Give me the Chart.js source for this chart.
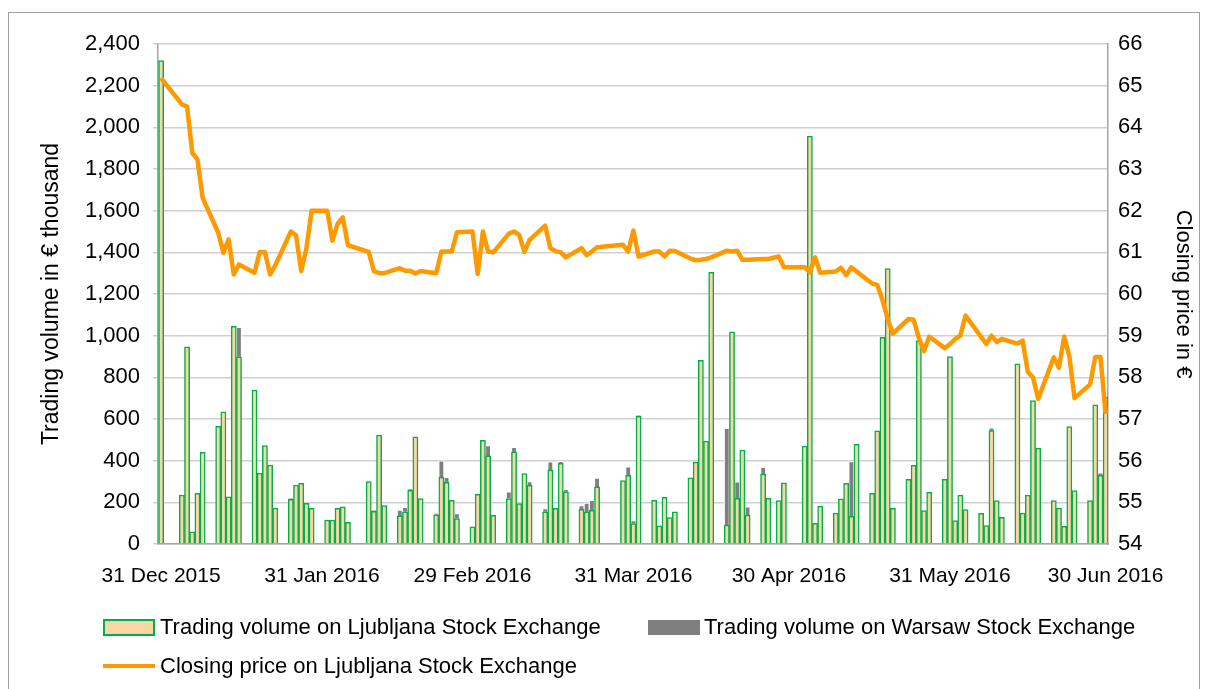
<!DOCTYPE html>
<html>
<head>
<meta charset="utf-8">
<script src="https://cdn.jsdelivr.net/npm/chart.js@4.4.1/dist/chart.umd.min.js"></script>
<style>
  html, body { margin: 0; padding: 0; background: #fff; }
  body { width: 1209px; height: 689px; overflow: hidden; position: relative; font-family: 'Liberation Sans', Arial, sans-serif; }
  #frame { position: absolute; left: 8px; top: 12px; width: 1192px; height: 700px; border: 1px solid #a0a0a0; box-sizing: border-box; }
  canvas { position: absolute; left: 0; top: 0; }
  .lg { position: absolute; font-size: 22px; line-height: 26px; color: #000; white-space: nowrap; }
  .sw { position: absolute; box-sizing: border-box; }
</style>
</head>
<body>
<div id="frame"></div>
<canvas id="chart" width="1209" height="689"></canvas>

<div class="sw" style="left:103px;top:619px;width:52px;height:17px;background:#f9d7a4;border:2px solid #00b050;"></div>
<div class="lg" style="left:160px;top:614px;">Trading volume on Ljubljana Stock Exchange</div>
<div class="sw" style="left:648px;top:620px;width:52px;height:15px;background:#7f7f7f;"></div>
<div class="lg" style="left:704px;top:614px;">Trading volume on Warsaw Stock Exchange</div>
<div class="sw" style="left:103px;top:664px;width:52px;height:4px;background:#ff9900;"></div>
<div class="lg" style="left:160px;top:653px;">Closing price on Ljubljana Stock Exchange</div>

<script>
// trading days, 31 Dec 2015 - 30 Jun 2016
const dates = [
  '2015-12-31',
  '2016-01-04', '2016-01-05', '2016-01-06', '2016-01-07', '2016-01-08',
  '2016-01-11', '2016-01-12', '2016-01-13', '2016-01-14', '2016-01-15',
  '2016-01-18', '2016-01-19', '2016-01-20', '2016-01-21', '2016-01-22',
  '2016-01-25', '2016-01-26', '2016-01-27', '2016-01-28', '2016-01-29',
  '2016-02-01', '2016-02-02', '2016-02-03', '2016-02-04', '2016-02-05',
  '2016-02-09', '2016-02-10', '2016-02-11', '2016-02-12',
  '2016-02-15', '2016-02-16', '2016-02-17', '2016-02-18', '2016-02-19',
  '2016-02-22', '2016-02-23', '2016-02-24', '2016-02-25', '2016-02-26',
  '2016-02-29', '2016-03-01', '2016-03-02', '2016-03-03', '2016-03-04',
  '2016-03-07', '2016-03-08', '2016-03-09', '2016-03-10', '2016-03-11',
  '2016-03-14', '2016-03-15', '2016-03-16', '2016-03-17', '2016-03-18',
  '2016-03-21', '2016-03-22', '2016-03-23', '2016-03-24',
  '2016-03-29', '2016-03-30', '2016-03-31', '2016-04-01',
  '2016-04-04', '2016-04-05', '2016-04-06', '2016-04-07', '2016-04-08',
  '2016-04-11', '2016-04-12', '2016-04-13', '2016-04-14', '2016-04-15',
  '2016-04-18', '2016-04-19', '2016-04-20', '2016-04-21', '2016-04-22',
  '2016-04-25', '2016-04-26', '2016-04-28', '2016-04-29',
  '2016-05-03', '2016-05-04', '2016-05-05', '2016-05-06',
  '2016-05-09', '2016-05-10', '2016-05-11', '2016-05-12', '2016-05-13',
  '2016-05-16', '2016-05-17', '2016-05-18', '2016-05-19', '2016-05-20',
  '2016-05-23', '2016-05-24', '2016-05-25', '2016-05-26', '2016-05-27',
  '2016-05-30', '2016-05-31', '2016-06-01', '2016-06-02', '2016-06-03',
  '2016-06-06', '2016-06-07', '2016-06-08', '2016-06-09', '2016-06-10',
  '2016-06-13', '2016-06-14', '2016-06-15', '2016-06-16', '2016-06-17',
  '2016-06-20', '2016-06-21', '2016-06-22', '2016-06-23', '2016-06-24',
  '2016-06-27', '2016-06-28', '2016-06-29', '2016-06-30'
];

// € thousand
const ljubljanaVolume = [
  2320,
  235, 947, 59, 243, 440,
  565, 635, 227, 1045, 899,
  739, 341, 472, 379, 173,
  214, 283, 291, 195, 171,
  115, 115, 171, 179, 104,
  300, 157, 523, 184,
  135, 155, 258, 514, 218,
  140, 321, 296, 210, 122,
  82, 238, 498, 423, 138,
  218, 442, 194, 338, 282,
  155, 355, 171, 387, 251,
  167, 154, 162, 274,
  305, 330, 98, 613,
  210, 87, 224, 127, 155,
  318, 393, 882, 494, 1304,
  91, 1019, 219, 451, 139,
  336, 219, 208, 294,
  470, 1958, 99, 182,
  149, 217, 291, 133, 479,
  243, 543, 992, 1322, 171,
  310, 378, 976, 160, 248,
  310, 900, 112, 235, 165,
  147, 88, 544, 208, 128,
  865, 148, 235, 688, 460,
  208, 173, 85, 564, 256,
  208, 668, 330, 704
];

const warsawVolume = [
  0,
  0, 0, 0, 0, 0,
  0, 0, 0, 0, 141,
  0, 0, 0, 0, 0,
  6, 0, 0, 0, 0,
  0, 0, 0, 0, 0,
  0, 5, 0, 0,
  28, 21, 6, 0, 0,
  8, 78, 24, 0, 24,
  0, 0, 0, 50, 0,
  32, 22, 0, 0, 18,
  15, 40, 0, 10, 12,
  18, 43, 48, 42,
  0, 40, 15, 5,
  0, 0, 0, 0, 0,
  0, 0, 0, 0, 0,
  464, 0, 80, 0, 40,
  32, 0, 0, 0,
  0, 0, 0, 0,
  0, 0, 0, 263, 0,
  0, 0, 0, 0, 0,
  0, 0, 0, 0, 0,
  0, 0, 0, 0, 0,
  0, 0, 14, 0, 0,
  0, 0, 0, 0, 0,
  0, 0, 0, 0, 0,
  0, 0, 12, 0
];

// €
const closingPrice = [
  65.18,
  64.55, 64.5, 63.39, 63.23, 62.31,
  61.47, 60.99, 61.31, 60.47, 60.71,
  60.51, 61.01, 61.01, 60.47, 60.69,
  61.5, 61.41, 60.55, 61.1, 62.0,
  62.0, 61.28, 61.68, 61.84, 61.17,
  61.01, 60.55, 60.5, 60.5,
  60.62, 60.56, 60.56, 60.49, 60.55,
  60.5, 61.02, 61.02, 61.02, 61.48,
  61.5, 60.48, 61.5, 61.02, 61.0,
  61.45, 61.5, 61.42, 61.01, 61.3,
  61.64, 61.1, 61.03, 61.0, 60.88,
  61.1, 60.93, 61.02, 61.12,
  61.18, 61.02, 61.52, 60.9,
  61.02, 61.02, 60.9, 61.04, 61.03,
  60.85, 60.81, 60.82, 60.84, 60.88,
  61.04, 61.02, 61.04, 60.82, 60.82,
  60.84, 60.84, 60.9, 60.64,
  60.64, 60.52, 60.88, 60.51,
  60.54, 60.63, 60.45, 60.64, 60.54,
  60.25, 60.22, 59.85, 59.4, 59.05,
  59.4, 59.38, 58.95, 58.63, 58.98,
  58.7, 58.8, 58.92, 59.0, 59.48,
  58.97, 58.8, 59.0, 58.85, 58.92,
  58.81, 58.88, 58.13, 58.0, 57.48,
  58.48, 58.23, 58.98, 58.51, 57.5,
  57.83, 58.49, 58.49, 57.12
];

const tickDates = ['2015-12-31', '2016-01-31', '2016-02-29', '2016-03-31', '2016-04-30', '2016-05-31', '2016-06-30'];
const tickLabels = ['31 Dec 2015', '31 Jan 2016', '29 Feb 2016', '31 Mar 2016', '30 Apr 2016', '31 May 2016', '30 Jun 2016'];

const start = Date.UTC(2015, 11, 31);
const dayOf = (s) => {
  const [y, m, d] = s.split('-').map(Number);
  return Math.round((Date.UTC(y, m - 1, d) - start) / 86400000);
};
const xs = dates.map(dayOf);
const tickDays = tickDates.map(dayOf);
const fmt = (v) => String(v).replace(/\B(?=(\d{3})+(?!\d))/g, ',');

Chart.defaults.font.family = "'Liberation Sans', Arial, sans-serif";
Chart.defaults.color = '#000';

new Chart(document.getElementById('chart'), {
  data: {
    datasets: [
      {
        type: 'line',
        label: 'Closing price on Ljubljana Stock Exchange',
        data: xs.map((x, i) => ({ x, y: closingPrice[i] })),
        yAxisID: 'y1',
        borderColor: '#ff9900',
        borderWidth: 4.5,
        borderJoinStyle: 'round',
        pointRadius: 0,
        tension: 0,
        order: 0
      },
      {
        type: 'bar',
        label: 'Trading volume on Ljubljana Stock Exchange',
        data: xs.map((x, i) => ({ x, y: ljubljanaVolume[i] })),
        yAxisID: 'y',
        stack: 'vol',
        backgroundColor: '#f9d7a4',
        borderColor: '#00b050',
        borderWidth: 1.5,
        barPercentage: 1,
        categoryPercentage: 1,
        order: 1
      },
      {
        type: 'bar',
        label: 'Trading volume on Warsaw Stock Exchange',
        data: xs.map((x, i) => ({ x, y: warsawVolume[i] || null })),
        yAxisID: 'y',
        stack: 'vol',
        backgroundColor: '#7f7f7f',
        borderColor: '#ffffff',
        borderWidth: 1,
        barPercentage: 1,
        categoryPercentage: 1,
        order: 1
      }
    ]
  },
  options: {
    responsive: false,
    animation: false,
    devicePixelRatio: 1,
    layout: { padding: { top: 44, left: 0, right: 0, bottom: 0 } },
    plugins: { legend: { display: false }, tooltip: { enabled: false } },
    scales: {
      x: {
        type: 'linear',
        offset: false,
        min: -0.6,
        max: 182.45,
        stacked: true,
        grid: { display: false, drawTicks: false },
        border: { display: true, color: '#a6a6a6', width: 1.5 },
        ticks: {
          autoSkip: false,
          maxRotation: 0,
          padding: 20,
          font: { size: 21 },
          callback: (v) => {
            const k = tickDays.indexOf(v);
            return k >= 0 ? tickLabels[k] : '';
          }
        },
        afterBuildTicks: (s) => { s.ticks = tickDays.map((v) => ({ value: v })); },
        afterFit: (s) => { s.height = 145; }
      },
      y: {
        position: 'left',
        stacked: true,
        min: 0,
        max: 2400,
        ticks: { stepSize: 200, padding: 13, font: { size: 22 }, callback: (v) => fmt(v) },
        grid: { color: '#d0d0d0', lineWidth: 1.5, tickLength: 5 },
        border: { display: true, color: '#a6a6a6', width: 1.5 },
        title: { display: true, text: 'Trading volume in € thousand', font: { size: 23 }, padding: { top: 38, bottom: 0 } },
        afterFit: (s) => { s.width = 158; }
      },
      y1: {
        position: 'right',
        min: 54,
        max: 66,
        ticks: { stepSize: 1, padding: 10, font: { size: 22 } },
        grid: { display: false, drawTicks: false },
        border: { display: true, color: '#a6a6a6', width: 1.5 },
        title: { display: true, text: 'Closing price in €', font: { size: 22 }, padding: { top: 13, bottom: 0 } },
        afterFit: (s) => { s.width = 101; }
      }
    }
  }
});
</script>
</body>
</html>
